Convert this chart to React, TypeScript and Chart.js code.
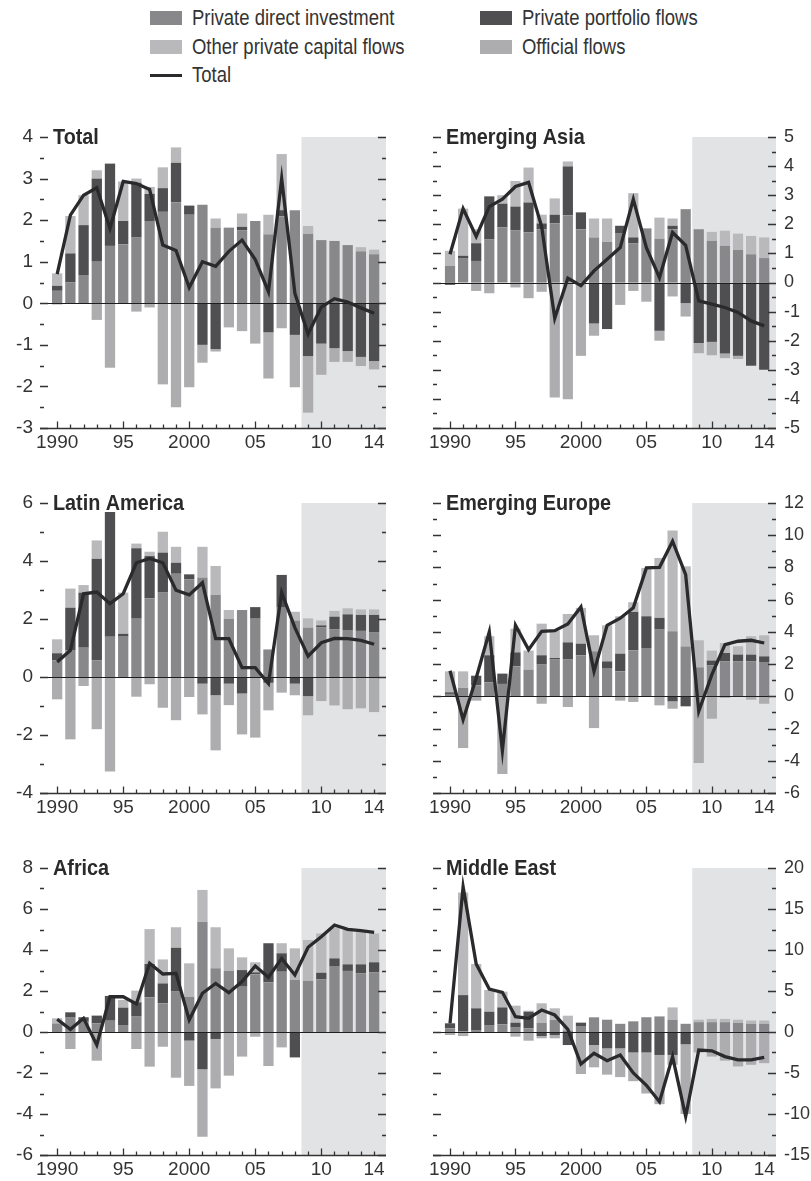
import React, { useEffect, useRef } from "react";
import { Chart, registerables } from "chart.js";

Chart.register(...registerables);

// ---------------- data ----------------
const years = [1990, 1991, 1992, 1993, 1994, 1995, 1996, 1997, 1998, 1999, 2000, 2001, 2002, 2003, 2004, 2005, 2006, 2007, 2008, 2009, 2010, 2011, 2012, 2013, 2014];
const xTickValues = [1990, 1995, 2000, 2005, 2010, 2014];
const xTickLabels = ["1990", "95", "2000", "05", "10", "14"];
const seriesNames = ["Private direct investment", "Private portfolio flows", "Other private capital flows", "Official flows", "Total"];
const forecastStart = 2008.5;

// Total
const totalDirect = [0.30, 0.50, 0.68, 1.00, 1.38, 1.42, 1.58, 1.98, 2.20, 2.43, 2.13, 2.37, 1.82, 1.82, 1.76, 1.98, 1.66, 2.09, 2.24, 1.67, 1.52, 1.50, 1.40, 1.25, 1.18];
const totalPortfolio = [0.12, 0.70, 1.20, 2.00, 1.98, 0.56, 1.32, 0.65, 0.57, 0.95, 0.22, -1.00, -1.10, 0, 0.08, 0, -0.70, 0.15, -0.76, -1.27, -0.97, -1.08, -1.15, -1.29, -1.39];
const totalOther = [0.30, 0.90, 0.72, 0.20, 0, 0.95, 0.10, 0.17, 0.50, 0.37, 0, 0, 0.22, 0, 0.32, 0, 0.47, 1.35, 0, 0.19, 0, 0, 0, 0.10, 0.11];
const totalOfficial = [-0.03, 0, 0, -0.40, -1.55, 0, -0.20, -0.10, -1.95, -2.50, -2.02, -0.43, -0.06, -0.58, -0.67, -0.97, -1.11, -0.60, -1.26, -1.36, -0.75, -0.33, -0.26, -0.22, -0.20];
const totalLine = [0.70, 2.12, 2.60, 2.78, 1.80, 2.93, 2.88, 2.74, 1.40, 1.27, 0.38, 1.00, 0.89, 1.25, 1.52, 1.05, 0.28, 3.00, 0.24, -0.74, -0.09, 0.11, 0.03, -0.11, -0.24];

// Emerging Asia
const asiaDirect = [0.57, 0.82, 0.74, 1.49, 1.89, 1.80, 1.72, 1.83, 2.03, 2.31, 1.83, 1.55, 1.40, 1.70, 1.34, 1.86, 1.51, 1.83, 2.52, 1.83, 1.43, 1.26, 1.12, 0.97, 0.84];
const asiaPortfolio = [-0.08, 0.10, 0.61, 1.47, 0.82, 0.81, 1.03, 0.20, 0.30, 1.68, 0.58, -1.41, -1.60, 0.25, 0.21, 0, -1.66, 0.12, -0.71, -2.08, -2.04, -2.44, -2.52, -2.86, -3.00];
const asiaOther = [0.52, 1.62, 0.48, 0, 0.29, 0.88, 1.20, 0.30, 0.56, 0.17, 0, 0.65, 0.80, 0, 1.52, 0, 0.72, 0.25, 0, 0, 0.31, 0.52, 0.56, 0.63, 0.71];
const asiaOfficial = [0, 0, -0.29, -0.37, 0, -0.17, -0.54, -0.32, -3.95, -4.01, -2.52, -0.42, 0, -0.77, -0.29, -0.66, -0.34, -0.48, -0.46, -0.35, -0.46, -0.16, -0.11, 0, 0];
const asiaLine = [0.97, 2.54, 1.58, 2.61, 2.86, 3.30, 3.44, 1.92, -1.23, 0.15, -0.11, 0.40, 0.80, 1.20, 2.86, 1.20, 0.17, 1.72, 1.28, -0.63, -0.74, -0.86, -1.03, -1.32, -1.49];

// Latin America
const latDirect = [0.57, 0.93, 1.01, 0.57, 1.39, 1.39, 2.01, 2.71, 2.91, 3.56, 3.37, 3.43, 2.83, 2.01, 2.31, 2.01, 0.95, 2.39, 1.95, 1.70, 1.72, 1.64, 1.62, 1.59, 1.55];
const latPortfolio = [0.25, 1.46, 1.90, 3.51, 4.30, 0.10, 2.43, 1.46, 1.38, 0.38, 0.17, -0.23, -0.63, -0.23, -0.57, 0.40, -0.20, 1.13, -0.23, -0.66, 0.06, 0.44, 0.54, 0.55, 0.59];
const latOther = [0.48, 0.66, 0.26, 0.63, 0, 1.42, 0.16, 0.15, 0.72, 0.55, 0, 1.06, 1.00, 0.30, 0, 0, 0, 0, 0.30, 0.32, 0.17, 0.20, 0.21, 0.19, 0.19];
const latOfficial = [-0.77, -2.15, -0.31, -1.80, -3.26, 0, -0.68, -0.25, -1.06, -1.49, -0.69, -1.06, -1.90, -0.74, -1.41, -2.09, -0.95, -0.54, -0.40, -0.66, -0.83, -0.98, -1.11, -1.08, -1.21];
const latLine = [0.52, 0.92, 2.87, 2.93, 2.53, 2.87, 3.94, 4.09, 3.94, 2.99, 2.83, 3.25, 1.32, 1.32, 0.32, 0.32, -0.23, 2.91, 1.70, 0.72, 1.18, 1.33, 1.32, 1.26, 1.13];

// Emerging Europe
const eurDirect = [0.15, 0.52, 0.68, 0.87, 0.77, 1.86, 1.66, 1.97, 2.28, 2.28, 2.55, 2.80, 1.76, 1.55, 2.86, 3.00, 4.14, 4.04, 3.10, 1.80, 1.93, 2.17, 2.17, 2.17, 2.13];
const eurPortfolio = [0.10, 0, 0.60, 1.68, 0.64, 0.87, 0, 0.58, 0.10, 1.07, 0.72, 0, 0.41, 1.10, 2.38, 1.97, 0.73, -0.31, -0.62, 0, 0.29, 0.52, 0.42, 0.42, 0.35];
const eurOther = [1.30, 1.03, 0, 1.18, 0, 1.47, 1.18, 1.96, 1.70, 1.76, 2.22, 0.99, 2.24, 2.32, 0.60, 3.00, 3.72, 6.25, 4.97, 1.68, 0.62, 0.62, 0.52, 1.14, 1.31];
const eurOfficial = [0, -3.21, -0.27, 0, -4.82, 0, 0, -0.46, 0, -0.66, 0, -1.97, 0, -0.27, -0.35, 0, -0.56, -0.46, 0, -4.14, -1.39, -0.10, 0, -0.21, -0.46];
const eurLine = [1.59, -1.45, 1.14, 4.00, -3.37, 4.41, 2.90, 4.04, 4.08, 4.49, 5.55, 1.55, 4.41, 4.85, 5.49, 7.97, 8.01, 9.63, 7.56, -0.93, 1.35, 3.21, 3.42, 3.48, 3.31];

// Africa
const afrDirect = [0.42, 0.70, 0.50, 0.42, 0.55, 0.34, 0.75, 1.69, 1.40, 1.97, 1.72, 5.38, 3.11, 2.98, 2.21, 2.81, 2.42, 2.94, 2.54, 2.50, 2.57, 3.19, 2.98, 2.86, 2.91];
const afrPortfolio = [0, 0.26, 0.22, 0.38, 1.21, 0.85, 0.70, 1.63, 0.97, 2.14, -0.42, -1.82, -0.34, 0, 0.81, 0.10, 1.91, 0.90, -1.24, 0, 0.32, 0.40, 0.32, 0.44, 0.49];
const afrOther = [0.25, 0, 0, 0, 0, 0.37, 0.57, 1.70, 1.17, 1.00, 1.63, 1.55, 2.00, 1.10, 0.62, 0.49, 0, 0.49, 1.54, 1.99, 1.92, 1.52, 1.68, 1.59, 1.41];
const afrOfficial = [-0.05, -0.83, -0.05, -1.40, 0, 0, -0.83, -1.69, -0.72, -2.23, -2.21, -3.29, -2.41, -2.13, -1.20, -0.23, -1.66, -0.75, 0, 0, 0, 0, 0, 0, 0];
const afrLine = [0.62, 0.13, 0.67, -0.63, 1.72, 1.72, 1.37, 3.35, 2.83, 2.86, 0.59, 1.89, 2.37, 1.92, 2.46, 3.22, 2.67, 3.59, 2.78, 4.13, 4.65, 5.22, 5.01, 4.94, 4.86];

// Middle East
const meDirect = [0.45, 0.10, 0.24, 0.85, 0.93, 0.53, 0.45, 1.14, 1.46, 0.20, 0.65, 1.79, 1.50, 1.00, 1.30, 1.80, 1.90, 1.50, 1.00, 1.20, 1.20, 1.20, 1.10, 1.00, 1.00];
const mePortfolio = [0.61, 4.40, 2.65, 1.63, 2.07, 0.61, 2.03, -0.49, -0.37, -1.59, 0.49, -1.59, -2.00, -2.00, -2.50, -2.50, -2.80, -2.80, -1.50, 0, 0, 0, 0, 0, 0];
const meOther = [0, 12.50, 5.41, 2.64, 1.92, 2.07, 0.12, 2.36, 1.43, 1.79, 0, 0, 0, 0, 0, 0, 0, 1.50, 0, 0.30, 0.40, 0.40, 0.40, 0.40, 0.40];
const meOfficial = [-0.37, -0.50, 0, 0, 0, -0.57, -1.06, -0.28, -0.40, 0, -5.12, -2.72, -3.20, -3.50, -3.50, -5.00, -6.00, -1.20, -8.50, -2.50, -3.00, -3.50, -4.20, -4.00, -3.80];
const meLine = [1.06, 17.70, 8.30, 5.24, 4.84, 1.87, 1.67, 2.68, 2.07, 0.33, -3.90, -2.60, -3.50, -2.80, -5.00, -6.50, -8.50, -3.00, -10.30, -2.20, -2.30, -3.00, -3.40, -3.40, -3.10];

// ---------------- styles ----------------
const SANS = '"Liberation Sans", Arial, Helvetica, sans-serif';
const LEGEND_SCALE = 0.84;
const TITLE_SCALE = 0.9;
const COL = {
  direct: "#88888a",
  portfolio: "#4f4f51",
  other: "#b9b9bb",
  official: "#adadaf",
  line: "#2a2a2c",
  shade: "#e2e3e5",
  ink: "#333333",
};
const ROWS = [
  { top: 137, bottom: 428 },
  { top: 503, bottom: 793 },
  { top: 868, bottom: 1155 },
];

type PanelDef = {
  title: string;
  side: "left" | "right";
  row: number;
  direct: number[];
  portfolio: number[];
  other: number[];
  official: number[];
  total: number[];
  min: number;
  max: number;
  major: number;
  minor: number;
};

const panels: PanelDef[] = [
  { title: "Total", side: "left", row: 0, direct: totalDirect, portfolio: totalPortfolio, other: totalOther, official: totalOfficial, total: totalLine, min: -3, max: 4, major: 1, minor: 0.5 },
  { title: "Emerging Asia", side: "right", row: 0, direct: asiaDirect, portfolio: asiaPortfolio, other: asiaOther, official: asiaOfficial, total: asiaLine, min: -5, max: 5, major: 1, minor: 0.5 },
  { title: "Latin America", side: "left", row: 1, direct: latDirect, portfolio: latPortfolio, other: latOther, official: latOfficial, total: latLine, min: -4, max: 6, major: 2, minor: 1 },
  { title: "Emerging Europe", side: "right", row: 1, direct: eurDirect, portfolio: eurPortfolio, other: eurOther, official: eurOfficial, total: eurLine, min: -6, max: 12, major: 2, minor: 1 },
  { title: "Africa", side: "left", row: 2, direct: afrDirect, portfolio: afrPortfolio, other: afrOther, official: afrOfficial, total: afrLine, min: -6, max: 8, major: 2, minor: 1 },
  { title: "Middle East", side: "right", row: 2, direct: meDirect, portfolio: mePortfolio, other: meOther, official: meOfficial, total: meLine, min: -15, max: 20, major: 5, minor: 2.5 },
];

function steps(min: number, max: number, step: number): number[] {
  const out: number[] = [];
  const n = Math.round((max - min) / step);
  for (let i = 0; i <= n; i++) out.push(Math.round((min + i * step) * 1000) / 1000);
  return out;
}

function Panel({ def }: { def: PanelDef }) {
  const ref = useRef<HTMLCanvasElement | null>(null);
  const isLeft = def.side === "left";
  const row = ROWS[def.row];
  const canvasLeft = isLeft ? 0 : 400;
  const canvasWidth = isLeft ? 400 : 411;
  const padTop = 36;
  const canvasTop = row.top - padTop;
  const canvasBottom = Math.min(row.bottom + 40, 1181);
  const canvasHeight = canvasBottom - canvasTop;
  const xAxisHeight = canvasBottom - row.bottom;

  useEffect(() => {
    const mk = (vals: number[]) => vals.map((v, i) => ({ x: years[i], y: v }));
    const majors = steps(def.min, def.max, def.major);
    const minors = steps(def.min, def.max, def.minor);

    const deco = {
      id: "deco",
      beforeDatasetsDraw(chart: any) {
        const { ctx, chartArea: a, scales } = chart;
        const x0 = scales.x.getPixelForValue(forecastStart);
        ctx.save();
        ctx.fillStyle = COL.shade;
        ctx.fillRect(x0, a.top, a.right - x0, a.bottom - a.top);
        ctx.restore();
      },
      afterDatasetDraw(chart: any, args: any) {
        if (args.index !== 0) return;
        const { ctx, chartArea: a, scales } = chart;
        const y0 = Math.round(scales.y.getPixelForValue(0)) + 0.5;
        ctx.save();
        ctx.strokeStyle = "#1e1e1e";
        ctx.lineWidth = 1.2;
        ctx.beginPath();
        ctx.moveTo(a.left, y0);
        ctx.lineTo(a.right, y0);
        ctx.stroke();
        ctx.restore();
      },
      afterDraw(chart: any) {
        const { ctx, chartArea: a, scales } = chart;
        ctx.save();
        ctx.strokeStyle = COL.ink;
        ctx.lineWidth = 1.3;
        minors.forEach((v) => {
          const isMajor = majors.some((m) => Math.abs(m - v) < 1e-6);
          const len = isMajor ? 8 : 4;
          const y = Math.round(scales.y.getPixelForValue(v)) + 0.5;
          ctx.beginPath();
          ctx.moveTo(a.left, y);
          ctx.lineTo(a.left + len, y);
          ctx.moveTo(a.right - len, y);
          ctx.lineTo(a.right, y);
          ctx.stroke();
        });
        const yb = Math.round(a.bottom) + 0.5;
        ctx.beginPath();
        ctx.moveTo(a.left, yb);
        ctx.lineTo(a.right, yb);
        ctx.stroke();
        years.forEach((yr) => {
          const isMajor = yr % 5 === 0;
          const len = isMajor ? 7 : 4;
          const x = Math.round(scales.x.getPixelForValue(yr)) + 0.5;
          ctx.beginPath();
          ctx.moveTo(x, yb);
          ctx.lineTo(x, yb - len);
          ctx.stroke();
        });
        // title (condensed bold)
        ctx.fillStyle = "#2a2a2a";
        ctx.font = `bold 22px ${SANS}`;
        ctx.textBaseline = "middle";
        ctx.textAlign = "left";
        ctx.translate(a.left + 13, scales.y.getPixelForValue(def.max) + 1);
        ctx.scale(TITLE_SCALE, 1);
        ctx.fillText(def.title, 0, 0);
        ctx.restore();
      },
    };

    const barCommon = { type: "bar" as const, order: 1, barPercentage: 0.78, categoryPercentage: 1, borderWidth: 0 };
    const chart = new Chart(ref.current as HTMLCanvasElement, {
      type: "bar",
      data: {
        datasets: [
          { ...barCommon, label: seriesNames[0], data: mk(def.direct), backgroundColor: COL.direct },
          { ...barCommon, label: seriesNames[1], data: mk(def.portfolio), backgroundColor: COL.portfolio },
          { ...barCommon, label: seriesNames[2], data: mk(def.other), backgroundColor: COL.other },
          { ...barCommon, label: seriesNames[3], data: mk(def.official), backgroundColor: COL.official },
          {
            type: "line",
            label: seriesNames[4],
            data: mk(def.total),
            borderColor: COL.line,
            borderWidth: 3.3,
            pointRadius: 0,
            tension: 0,
            order: 0,
            borderJoinStyle: "miter",
          } as any,
        ],
      },
      options: {
        responsive: false,
        animation: false,
        devicePixelRatio: 1,
        events: [],
        layout: { padding: { left: isLeft ? 0 : 33, right: isLeft ? 14 : 0, top: padTop, bottom: 0 } },
        plugins: { legend: { display: false }, tooltip: { enabled: false } },
        scales: {
          x: {
            type: "linear",
            min: 1988.7,
            max: 2014.9,
            stacked: true,
            offset: false,
            grid: { display: false, drawTicks: false },
            border: { display: false },
            afterBuildTicks: (s: any) => {
              s.ticks = xTickValues.map((v) => ({ value: v }));
            },
            afterFit: (s: any) => {
              s.height = xAxisHeight;
            },
            ticks: {
              autoSkip: false,
              maxRotation: 0,
              padding: 3,
              color: COL.ink,
              font: { family: SANS, size: 19 },
              callback: (v: any) => {
                const i = xTickValues.indexOf(Number(v));
                return i >= 0 ? xTickLabels[i] : "";
              },
            },
          },
          y: {
            position: isLeft ? "left" : "right",
            min: def.min,
            max: def.max,
            stacked: true,
            grid: { display: false, drawTicks: false },
            border: { display: false },
            afterBuildTicks: (s: any) => {
              s.ticks = majors.map((v) => ({ value: v }));
            },
            afterFit: (s: any) => {
              s.width = isLeft ? 40 : 35;
            },
            ticks: {
              autoSkip: false,
              padding: isLeft ? 7 : 8,
              color: COL.ink,
              font: { family: SANS, size: isLeft ? 19 : 18 },
              callback: (v: any) => String(v),
            },
          },
        },
      } as any,
      plugins: [deco],
    });
    return () => chart.destroy();
  }, []);

  return (
    <canvas
      ref={ref}
      width={canvasWidth}
      height={canvasHeight}
      style={{ position: "absolute", left: canvasLeft, top: canvasTop, width: canvasWidth, height: canvasHeight }}
    />
  );
}

const legendItems = [
  { name: seriesNames[0], color: COL.direct, left: 150, cy: 18, kind: "box" },
  { name: seriesNames[1], color: COL.portfolio, left: 480, cy: 18, kind: "box" },
  { name: seriesNames[2], color: COL.other, left: 150, cy: 47, kind: "box" },
  { name: seriesNames[3], color: COL.official, left: 480, cy: 47, kind: "box" },
  { name: seriesNames[4], color: COL.line, left: 150, cy: 75, kind: "line" },
];

function Legend() {
  return (
    <>
      {legendItems.map((it) => (
        <div
          key={it.name}
          style={{
            position: "absolute",
            left: it.left,
            top: it.cy - 13,
            height: 26,
            display: "flex",
            alignItems: "center",
            whiteSpace: "nowrap",
          }}
        >
          <span
            style={{
              display: "inline-block",
              width: 32,
              height: it.kind === "box" ? 14 : 3,
              background: it.color,
              marginRight: 10,
            }}
          />
          <span
            style={{
              display: "inline-block",
              fontFamily: SANS,
              fontSize: 22,
              color: COL.ink,
              lineHeight: "26px",
              transform: `scaleX(${LEGEND_SCALE})`,
              transformOrigin: "left center",
            }}
          >
            {it.name}
          </span>
        </div>
      ))}
    </>
  );
}

export default function App() {
  return (
    <div style={{ position: "absolute", left: 0, top: 0, width: 811, height: 1181, background: "#ffffff", overflow: "hidden" }}>
      <Legend />
      {panels.map((p) => (
        <Panel key={p.title} def={p} />
      ))}
    </div>
  );
}
